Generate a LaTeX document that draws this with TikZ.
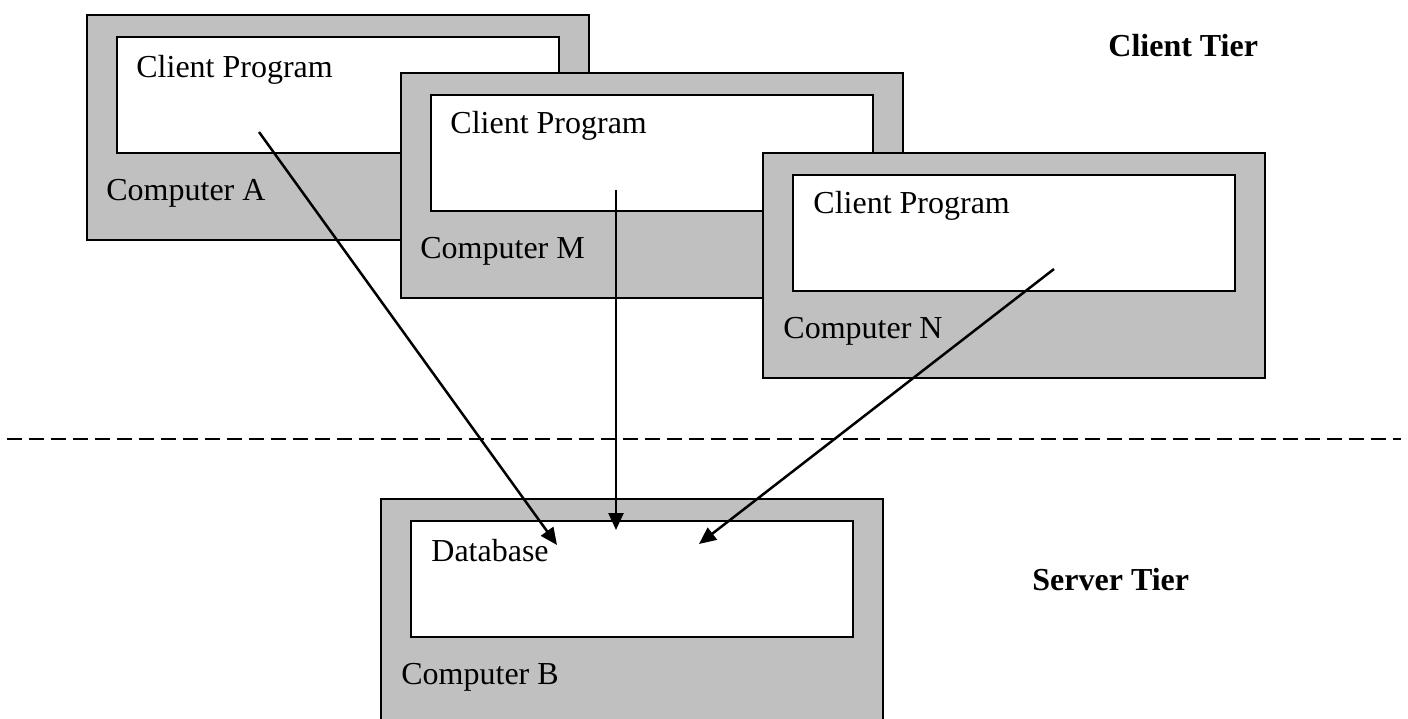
\documentclass[tikz,border=0pt]{standalone}
\usepackage{fontspec}
\setmainfont{Liberation Serif}
\usetikzlibrary{arrows.meta}
\definecolor{casegray}{RGB}{192,192,192}
\tikzset{
  machine/.style={draw=black, line width=1.2pt, fill=casegray, anchor=north west,
    minimum width=251pt, minimum height=112.5pt, inner sep=0pt},
  program/.style={draw=black, line width=1.2pt, fill=white, anchor=north west,
    minimum width=221pt, minimum height=58pt, inner sep=0pt},
  label/.style={anchor=base west, inner sep=0pt, font=\fontsize{16}{19}\selectfont},
  tier/.style={anchor=base west, inner sep=0pt, font=\fontsize{16}{19}\selectfont\bfseries},
  link/.style={line width=1.25pt, -{Triangle[length=8.5pt, width=7.5pt]}},
  divider/.style={line width=1.25pt, dash pattern=on 7.65pt off 3.35pt}
}
\begin{document}
\begin{tikzpicture}[x=0.5pt, y=-0.5pt]
  \clip (0,0) rectangle (1408,718);
  \fill[white] (0,0) rectangle (1408,718);

  % Computer A
  \node[machine] (compA) at (86,14) {};
  \node[program] (progA) at (116,36) {};
  \node[label] (progAtxt) at (136,77) {Client Program};
  \node[label] (compAtxt) at (106,200) {Computer A};

  % Computer M
  \node[machine] (compM) at (400,72) {};
  \node[program] (progM) at (430,94) {};
  \node[label] (progMtxt) at (450,133) {Client Program};
  \node[label] (compMtxt) at (420,258) {Computer M};

  % Computer N
  \node[machine] (compN) at (762,152) {};
  \node[program] (progN) at (792,174) {};
  \node[label] (progNtxt) at (813,213) {Client Program};
  \node[label] (compNtxt) at (783,338) {Computer N};

  % Computer B (server)
  \node[machine] (compB) at (380,498) {};
  \node[program] (db) at (410,520) {};
  \node[label] (dbtxt) at (431,561) {Database};
  \node[label] (compBtxt) at (401,684) {Computer B};

  % tier labels
  \node[tier] (clienttier) at (1108,56) {Client Tier};
  \node[tier] (servertier) at (1032,590) {Server Tier};

  % boundary between the tiers
  \coordinate (divL) at (7,439);
  \coordinate (divR) at (1401,439);
  \draw[divider] (divL) -- (divR);

  % requests from each client to the database
  \coordinate (srcA) at (259,132);
  \coordinate (srcM) at (616,190);
  \coordinate (srcN) at (1054,269);
  \coordinate (dstA) at (557,545);
  \coordinate (dstM) at (616,530);
  \coordinate (dstN) at (699,544);
  \draw[link] (srcA) -- (dstA);
  \draw[link] (srcM) -- (dstM);
  \draw[link] (srcN) -- (dstN);
\end{tikzpicture}
\end{document}
